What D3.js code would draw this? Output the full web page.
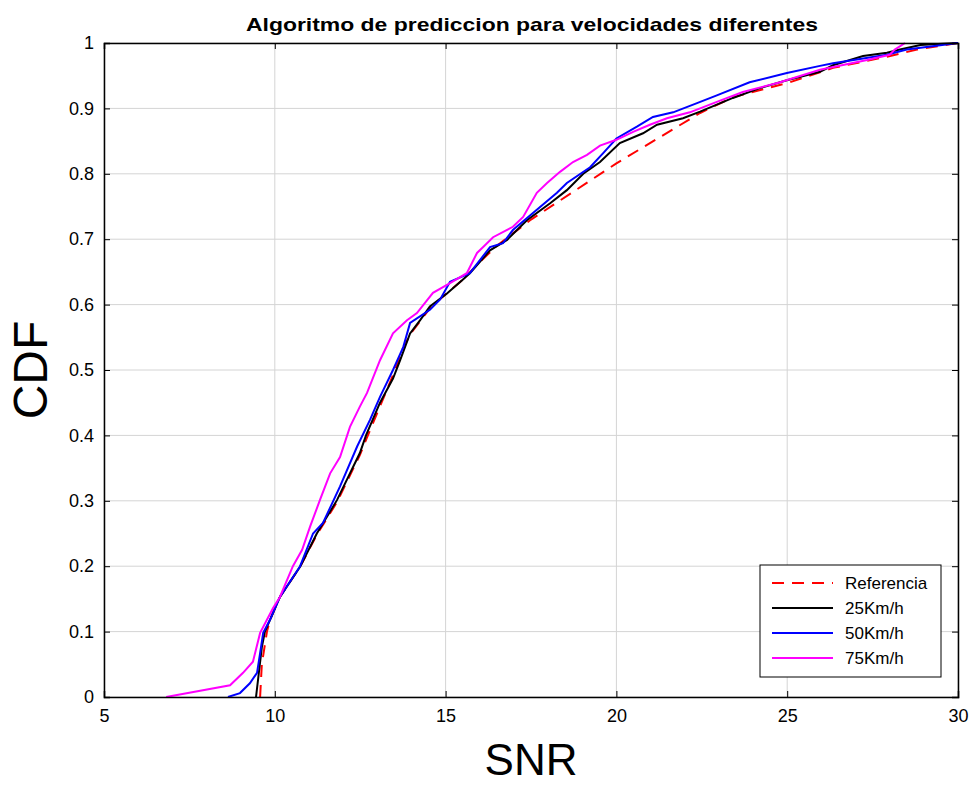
<!DOCTYPE html>
<html><head><meta charset="utf-8">
<script src="https://cdn.jsdelivr.net/npm/d3@7"></script>
<style>body{margin:0;background:#fff;} svg{display:block;}</style>
</head><body>
<svg id="c" width="971" height="785"></svg>
<script>
const title = "Algoritmo de prediccion para velocidades diferentes";
const xLabel = "SNR", yLabel = "CDF";
const xTicks = [5,10,15,20,25,30];
const yTicks = [0,0.1,0.2,0.3,0.4,0.5,0.6,0.7,0.8,0.9,1];
const seriesNames = ["Referencia","25Km/h","50Km/h","75Km/h"];

const refX = [9.57,9.62,9.77,9.86,10.15,10.74,11.23,11.82,12.49,12.7,13.1,13.5,13.72,13.98,14.3,14.6,15.05,15.5,16.0,16.5,17.0,17.5,20.0,22.45,23.41,25.08,26.34,27.92,28.8,30];
const refY = [0,0.05,0.1,0.118,0.153,0.199,0.248,0.298,0.37,0.397,0.447,0.497,0.53,0.556,0.578,0.598,0.618,0.638,0.665,0.69,0.71,0.73,0.816,0.893,0.917,0.94,0.962,0.979,0.99,1];

const k25X = [9.45,9.62,9.71,9.86,10.15,10.74,11.23,11.82,12.49,12.67,13.08,13.46,13.67,13.96,14.25,14.54,15.04,15.5,15.71,16.3,16.8,17.38,18.06,18.55,19.03,19.52,20.1,20.78,21.19,21.95,22.45,23.41,24.2,24.99,25.96,26.34,27.22,27.92,28.3,28.9,29.27,30];
const k25Y = [0,0.076,0.1,0.118,0.153,0.199,0.25,0.301,0.373,0.4,0.45,0.487,0.515,0.556,0.576,0.597,0.617,0.638,0.648,0.683,0.699,0.729,0.755,0.775,0.8,0.818,0.847,0.862,0.875,0.885,0.895,0.916,0.931,0.943,0.956,0.966,0.98,0.985,0.99,0.997,0.998,1];

const k50X = [8.63,8.98,9.27,9.48,9.57,9.66,9.86,10.15,10.74,11.12,11.41,11.91,12.41,12.79,13.08,13.46,13.76,13.96,14.54,14.84,15.13,15.71,16.3,16.68,16.97,17.67,18.26,18.55,19.23,19.62,20.0,20.6,21.07,21.66,22.36,22.94,23.9,24.99,25.96,26.34,27.92,28.5,30];
const k50Y = [0,0.006,0.021,0.037,0.067,0.098,0.118,0.153,0.2,0.25,0.266,0.322,0.383,0.424,0.459,0.5,0.535,0.572,0.592,0.608,0.635,0.648,0.688,0.694,0.714,0.745,0.771,0.786,0.81,0.832,0.854,0.872,0.887,0.894,0.908,0.92,0.94,0.954,0.965,0.969,0.982,0.99,1];

const k75X = [6.82,8.69,9.07,9.36,9.57,9.77,9.95,10.15,10.53,10.8,11.03,11.32,11.62,11.91,12.2,12.49,12.7,13.08,13.46,13.87,14.16,14.63,15.13,15.62,15.92,16.1,16.39,16.97,17.27,17.67,17.97,18.35,18.73,19.14,19.52,20.0,20.49,20.98,21.48,22.15,22.94,23.7,24.79,25.96,27.34,28.0,28.15,28.45];
const k75Y = [0,0.018,0.037,0.054,0.098,0.118,0.136,0.153,0.2,0.225,0.26,0.301,0.342,0.367,0.413,0.444,0.465,0.515,0.556,0.576,0.587,0.618,0.633,0.648,0.679,0.688,0.703,0.719,0.734,0.771,0.786,0.803,0.818,0.829,0.843,0.852,0.864,0.875,0.885,0.894,0.91,0.925,0.94,0.959,0.974,0.982,0.99,1];

const seriesX = [refX,k25X,k50X,k75X];
const seriesY = [refY,k25Y,k50Y,k75Y];
const colors = ["#ff0000","#000000","#0000ff","#ff00ff"];
const dashes = ["12,8",null,null,null];

const M = {left:104, right:958, top:43, bottom:697};
const x = d3.scaleLinear().domain([5,30]).range([M.left,M.right]);
const y = d3.scaleLinear().domain([0,1]).range([M.bottom,M.top]);
const svg = d3.select("#c");
const font = "Liberation Sans, Arial, sans-serif";

// grid
svg.append("g").selectAll("line").data(xTicks).join("line")
  .attr("x1",d=>x(d)).attr("x2",d=>x(d)).attr("y1",M.top).attr("y2",M.bottom)
  .attr("stroke","#d4d4d4").attr("stroke-width",1);
svg.append("g").selectAll("line").data(yTicks).join("line")
  .attr("y1",d=>y(d)).attr("y2",d=>y(d)).attr("x1",M.left).attr("x2",M.right)
  .attr("stroke","#d4d4d4").attr("stroke-width",1);

// lines
svg.append("clipPath").attr("id","clp").append("rect")
  .attr("x",M.left).attr("y",M.top-2).attr("width",M.right-M.left).attr("height",M.bottom-M.top+2);
const line = d3.line().x(d=>x(d[0])).y(d=>y(d[1]));
seriesX.forEach((xs,i)=>{
  const pts = xs.map((v,j)=>[v,seriesY[i][j]]);
  svg.append("path").attr("d",line(pts)).attr("fill","none")
    .attr("stroke",colors[i]).attr("stroke-width",2)
    .attr("stroke-dasharray",dashes[i]).attr("clip-path","url(#clp)");
});

// axes
const ax = d3.axisBottom(x).tickValues(xTicks).tickSize(-6).tickPadding(12).tickFormat(d3.format("d"));
const ay = d3.axisLeft(y).tickValues(yTicks).tickSize(-6).tickPadding(10).tickFormat(d=>d===0||d===1?String(d):d3.format(".1f")(d));
const gx = svg.append("g").attr("transform",`translate(0,${M.bottom})`).call(ax);
const gy = svg.append("g").attr("transform",`translate(${M.left},0)`).call(ay);
const gx2 = svg.append("g").attr("transform",`translate(0,${M.top})`).call(d3.axisTop(x).tickValues(xTicks).tickSize(-6).tickFormat(""));
const gy2 = svg.append("g").attr("transform",`translate(${M.right},0)`).call(d3.axisRight(y).tickValues(yTicks).tickSize(-6).tickFormat(""));
[gx,gy,gx2,gy2].forEach(g=>{
  g.selectAll(".domain").attr("stroke","#000").attr("stroke-width",1.5);
  g.selectAll(".tick line").attr("stroke","#000").attr("stroke-width",1);
  g.selectAll("text").attr("font-family",font).attr("font-size",18).attr("fill","#000");
});

// title & labels
svg.append("text").attr("x",532).attr("y",31).attr("text-anchor","middle")
  .attr("font-family",font).attr("font-weight","bold").attr("font-size",19)
  .attr("textLength",572).attr("lengthAdjust","spacingAndGlyphs").text(title);
svg.append("text").attr("x",531).attr("y",775).attr("text-anchor","middle")
  .attr("font-family",font).attr("font-size",44).text(xLabel);
svg.append("text").attr("transform","translate(47,370) rotate(-90)").attr("text-anchor","middle")
  .attr("font-family",font).attr("font-size",48).text(yLabel);

// legend
const lg = svg.append("g");
lg.append("rect").attr("x",760).attr("y",565).attr("width",181).attr("height",112)
  .attr("fill","#fff").attr("stroke","#000").attr("stroke-width",1);
seriesNames.forEach((n,i)=>{
  const yy = 583 + i*25;
  lg.append("line").attr("x1",772).attr("x2",833).attr("y1",yy).attr("y2",yy)
    .attr("stroke",colors[i]).attr("stroke-width",2).attr("stroke-dasharray",dashes[i]);
  lg.append("text").attr("x",845).attr("y",yy+6).attr("font-family",font).attr("font-size",17).text(n);
});
</script>
</body></html>
